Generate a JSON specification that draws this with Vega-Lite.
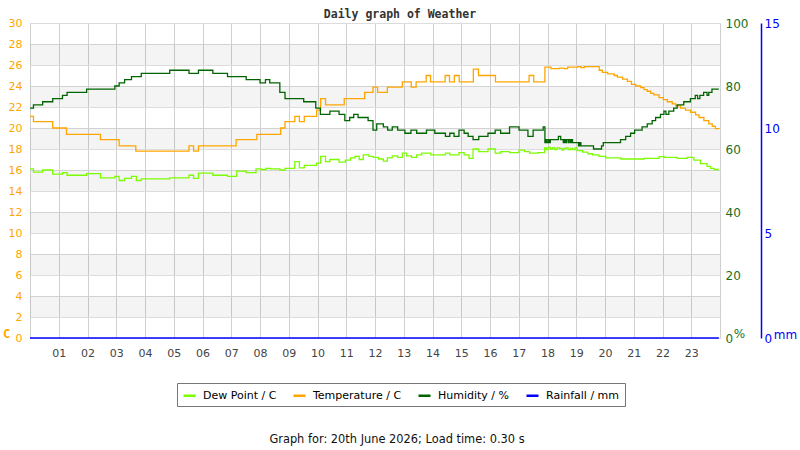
{
  "$schema": "https://vega.github.io/schema/vega-lite/v6.json",
  "width": 690,
  "height": 315,
  "autosize": "none",
  "padding": {"left": 30, "top": 23, "right": 80, "bottom": 112},
  "background": "white",
  "title": {
    "text": "Daily graph of Weather",
    "font": "DejaVu Sans Mono",
    "fontSize": 11.5,
    "fontWeight": "bold",
    "color": "#333",
    "anchor": "middle",
    "frame": "group",
    "dx": 25,
    "offset": -3
  },
  "datasets": {
    "bands": [
      {"lo": 2, "hi": 4}, {"lo": 6, "hi": 8}, {"lo": 10, "hi": 12}, {"lo": 14, "hi": 16},
      {"lo": 18, "hi": 20}, {"lo": 22, "hi": 24}, {"lo": 26, "hi": 28}
    ],
    "temperature": [
      {"hour": 0, "value": 21.1}, {"hour": 0.12, "value": 20.6}, {"hour": 0.79, "value": 20.0},
      {"hour": 1.27, "value": 19.4}, {"hour": 2.45, "value": 18.9}, {"hour": 3.1, "value": 18.3},
      {"hour": 3.68, "value": 17.8}, {"hour": 5.53, "value": 18.3}, {"hour": 5.69, "value": 17.8},
      {"hour": 5.86, "value": 18.3}, {"hour": 7.17, "value": 18.9}, {"hour": 7.89, "value": 19.4},
      {"hour": 8.72, "value": 20.0}, {"hour": 8.87, "value": 20.6}, {"hour": 9.21, "value": 21.1},
      {"hour": 9.37, "value": 20.6}, {"hour": 9.54, "value": 21.1}, {"hour": 9.97, "value": 21.7},
      {"hour": 10.11, "value": 22.8}, {"hour": 10.28, "value": 22.2}, {"hour": 10.93, "value": 22.8},
      {"hour": 11.64, "value": 23.4}, {"hour": 11.93, "value": 23.9}, {"hour": 12.09, "value": 23.4},
      {"hour": 12.43, "value": 23.9}, {"hour": 12.95, "value": 24.4}, {"hour": 13.26, "value": 23.9},
      {"hour": 13.43, "value": 24.4}, {"hour": 13.78, "value": 25.0}, {"hour": 13.93, "value": 24.4},
      {"hour": 14.44, "value": 25.0}, {"hour": 14.59, "value": 24.4}, {"hour": 14.76, "value": 25.0},
      {"hour": 14.93, "value": 24.4}, {"hour": 15.42, "value": 25.6}, {"hour": 15.6, "value": 25.0},
      {"hour": 16.19, "value": 24.4}, {"hour": 17.36, "value": 25.0}, {"hour": 17.52, "value": 24.4},
      {"hour": 17.91, "value": 25.8}, {"hour": 18.12, "value": 25.65}, {"hour": 18.41, "value": 25.7},
      {"hour": 18.58, "value": 25.65}, {"hour": 18.7, "value": 25.8}, {"hour": 19.05, "value": 25.85},
      {"hour": 19.16, "value": 25.75}, {"hour": 19.28, "value": 25.85}, {"hour": 19.8, "value": 25.5},
      {"hour": 19.91, "value": 25.3}, {"hour": 20.09, "value": 25.15}, {"hour": 20.32, "value": 25.0},
      {"hour": 20.43, "value": 24.85}, {"hour": 20.61, "value": 24.65}, {"hour": 20.78, "value": 24.45},
      {"hour": 20.92, "value": 24.15}, {"hour": 21.07, "value": 24.0}, {"hour": 21.24, "value": 23.85},
      {"hour": 21.36, "value": 23.65}, {"hour": 21.47, "value": 23.5}, {"hour": 21.59, "value": 23.3},
      {"hour": 21.7, "value": 23.15}, {"hour": 21.88, "value": 22.9}, {"hour": 22.03, "value": 22.7},
      {"hour": 22.17, "value": 22.5}, {"hour": 22.34, "value": 22.3}, {"hour": 22.46, "value": 22.1},
      {"hour": 22.63, "value": 21.9}, {"hour": 22.8, "value": 21.7}, {"hour": 22.98, "value": 21.5},
      {"hour": 23.15, "value": 21.25}, {"hour": 23.27, "value": 21.0}, {"hour": 23.44, "value": 20.7},
      {"hour": 23.61, "value": 20.4}, {"hour": 23.73, "value": 20.15}, {"hour": 23.84, "value": 19.95},
      {"hour": 23.96, "value": 19.9}
    ],
    "dewPoint": [
      {"hour": 0, "value": 16.1}, {"hour": 0.12, "value": 15.8}, {"hour": 0.44, "value": 16.0},
      {"hour": 0.79, "value": 15.6}, {"hour": 1.13, "value": 15.75}, {"hour": 1.29, "value": 15.5},
      {"hour": 1.97, "value": 15.65}, {"hour": 2.45, "value": 15.25}, {"hour": 2.95, "value": 15.4},
      {"hour": 3.1, "value": 15.0}, {"hour": 3.29, "value": 15.2}, {"hour": 3.53, "value": 15.4},
      {"hour": 3.7, "value": 15.0}, {"hour": 3.87, "value": 15.15}, {"hour": 4.86, "value": 15.25},
      {"hour": 5.53, "value": 15.5}, {"hour": 5.69, "value": 15.2}, {"hour": 5.86, "value": 15.7},
      {"hour": 6.36, "value": 15.5}, {"hour": 6.87, "value": 15.4}, {"hour": 7.19, "value": 15.9},
      {"hour": 7.52, "value": 15.75}, {"hour": 7.86, "value": 16.1}, {"hour": 8.02, "value": 16.05},
      {"hour": 8.21, "value": 16.15}, {"hour": 8.37, "value": 16.1}, {"hour": 8.69, "value": 16.0},
      {"hour": 8.87, "value": 16.15}, {"hour": 9.21, "value": 16.8}, {"hour": 9.37, "value": 16.2},
      {"hour": 9.54, "value": 16.45}, {"hour": 9.97, "value": 16.65}, {"hour": 10.11, "value": 17.3},
      {"hour": 10.28, "value": 16.8}, {"hour": 10.43, "value": 17.0}, {"hour": 10.75, "value": 16.75},
      {"hour": 10.97, "value": 16.95}, {"hour": 11.15, "value": 17.15}, {"hour": 11.3, "value": 17.3},
      {"hour": 11.45, "value": 17.0}, {"hour": 11.59, "value": 17.45}, {"hour": 11.79, "value": 17.3},
      {"hour": 11.94, "value": 17.2}, {"hour": 12.12, "value": 17.05}, {"hour": 12.29, "value": 16.85},
      {"hour": 12.43, "value": 17.15}, {"hour": 12.6, "value": 17.35}, {"hour": 12.79, "value": 17.2},
      {"hour": 12.95, "value": 17.6}, {"hour": 13.1, "value": 17.35}, {"hour": 13.27, "value": 17.2},
      {"hour": 13.45, "value": 17.45}, {"hour": 13.62, "value": 17.6}, {"hour": 13.94, "value": 17.45},
      {"hour": 14.45, "value": 17.6}, {"hour": 14.6, "value": 17.45}, {"hour": 14.92, "value": 17.65},
      {"hour": 15.1, "value": 17.45}, {"hour": 15.27, "value": 17.1}, {"hour": 15.41, "value": 18.0},
      {"hour": 15.61, "value": 17.75}, {"hour": 15.93, "value": 18.0}, {"hour": 16.18, "value": 17.6},
      {"hour": 16.37, "value": 17.75}, {"hour": 16.68, "value": 17.65}, {"hour": 17.01, "value": 17.9},
      {"hour": 17.2, "value": 17.75}, {"hour": 17.38, "value": 17.6}, {"hour": 17.66, "value": 17.65},
      {"hour": 17.9, "value": 18.1}, {"hour": 17.96, "value": 17.95}, {"hour": 18.02, "value": 18.15},
      {"hour": 18.1, "value": 18.0}, {"hour": 18.18, "value": 18.1}, {"hour": 18.25, "value": 17.95},
      {"hour": 18.33, "value": 18.1}, {"hour": 18.42, "value": 18.05}, {"hour": 18.5, "value": 17.9},
      {"hour": 18.56, "value": 18.05}, {"hour": 18.64, "value": 18.1}, {"hour": 18.72, "value": 17.95},
      {"hour": 18.8, "value": 18.05}, {"hour": 18.88, "value": 17.95}, {"hour": 18.96, "value": 18.1},
      {"hour": 19.03, "value": 17.85}, {"hour": 19.22, "value": 17.7}, {"hour": 19.4, "value": 17.55},
      {"hour": 19.56, "value": 17.45}, {"hour": 19.79, "value": 17.3}, {"hour": 20.03, "value": 17.15},
      {"hour": 20.55, "value": 17.05}, {"hour": 21.36, "value": 17.1}, {"hour": 21.88, "value": 17.27},
      {"hour": 22.05, "value": 17.2}, {"hour": 22.51, "value": 17.1}, {"hour": 22.86, "value": 17.2},
      {"hour": 23.09, "value": 16.95}, {"hour": 23.32, "value": 16.6}, {"hour": 23.55, "value": 16.35},
      {"hour": 23.67, "value": 16.15}, {"hour": 23.79, "value": 16.05}, {"hour": 23.96, "value": 16.05}
    ],
    "humidity": [
      {"hour": 0, "value": 73}, {"hour": 0.12, "value": 74}, {"hour": 0.44, "value": 75},
      {"hour": 0.79, "value": 76}, {"hour": 1.13, "value": 77}, {"hour": 1.29, "value": 78},
      {"hour": 1.97, "value": 79}, {"hour": 2.95, "value": 80}, {"hour": 3.1, "value": 81},
      {"hour": 3.29, "value": 82}, {"hour": 3.53, "value": 83}, {"hour": 3.87, "value": 84},
      {"hour": 4.86, "value": 85}, {"hour": 5.53, "value": 84}, {"hour": 5.86, "value": 85},
      {"hour": 6.36, "value": 84}, {"hour": 6.87, "value": 83}, {"hour": 7.52, "value": 82},
      {"hour": 8.0, "value": 81}, {"hour": 8.19, "value": 82}, {"hour": 8.34, "value": 81},
      {"hour": 8.69, "value": 78}, {"hour": 8.87, "value": 76}, {"hour": 9.52, "value": 75},
      {"hour": 9.94, "value": 73}, {"hour": 10.1, "value": 71}, {"hour": 10.43, "value": 72},
      {"hour": 10.75, "value": 71}, {"hour": 10.95, "value": 69}, {"hour": 11.12, "value": 70},
      {"hour": 11.26, "value": 71}, {"hour": 11.41, "value": 70}, {"hour": 11.76, "value": 69},
      {"hour": 11.93, "value": 66}, {"hour": 12.06, "value": 68}, {"hour": 12.29, "value": 67},
      {"hour": 12.44, "value": 66}, {"hour": 12.6, "value": 67}, {"hour": 12.79, "value": 66},
      {"hour": 13.04, "value": 65}, {"hour": 13.25, "value": 66}, {"hour": 13.45, "value": 65},
      {"hour": 13.79, "value": 66}, {"hour": 14.08, "value": 65}, {"hour": 14.45, "value": 64},
      {"hour": 14.6, "value": 65}, {"hour": 14.75, "value": 64}, {"hour": 14.92, "value": 66},
      {"hour": 15.1, "value": 65}, {"hour": 15.24, "value": 64}, {"hour": 15.41, "value": 63},
      {"hour": 15.61, "value": 64}, {"hour": 15.93, "value": 65}, {"hour": 16.18, "value": 66},
      {"hour": 16.37, "value": 65}, {"hour": 16.68, "value": 67}, {"hour": 17.01, "value": 66},
      {"hour": 17.32, "value": 64}, {"hour": 17.5, "value": 66}, {"hour": 17.85, "value": 67},
      {"hour": 17.91, "value": 62}, {"hour": 17.94, "value": 63}, {"hour": 17.98, "value": 62},
      {"hour": 18.03, "value": 63}, {"hour": 18.07, "value": 62}, {"hour": 18.1, "value": 63},
      {"hour": 18.38, "value": 64}, {"hour": 18.46, "value": 63}, {"hour": 18.55, "value": 62},
      {"hour": 18.58, "value": 63}, {"hour": 18.62, "value": 62}, {"hour": 18.66, "value": 63},
      {"hour": 18.72, "value": 62}, {"hour": 18.75, "value": 63}, {"hour": 18.8, "value": 62},
      {"hour": 18.83, "value": 63}, {"hour": 18.87, "value": 62}, {"hour": 19.08, "value": 61},
      {"hour": 19.12, "value": 62}, {"hour": 19.16, "value": 61}, {"hour": 19.6, "value": 60},
      {"hour": 19.88, "value": 61}, {"hour": 19.94, "value": 62}, {"hour": 20.54, "value": 63},
      {"hour": 20.72, "value": 64}, {"hour": 20.89, "value": 65}, {"hour": 21.03, "value": 66},
      {"hour": 21.29, "value": 67}, {"hour": 21.47, "value": 68}, {"hour": 21.64, "value": 69},
      {"hour": 21.76, "value": 70}, {"hour": 21.93, "value": 71}, {"hour": 22.05, "value": 72},
      {"hour": 22.12, "value": 71}, {"hour": 22.22, "value": 72}, {"hour": 22.39, "value": 73},
      {"hour": 22.51, "value": 74}, {"hour": 22.74, "value": 75}, {"hour": 22.97, "value": 76},
      {"hour": 23.14, "value": 77}, {"hour": 23.22, "value": 76}, {"hour": 23.3, "value": 77},
      {"hour": 23.43, "value": 78}, {"hour": 23.55, "value": 77}, {"hour": 23.61, "value": 78},
      {"hour": 23.72, "value": 79}, {"hour": 23.96, "value": 79}
    ],
    "rainfall": [
      {"hour": 0, "value": 0}, {"hour": 23.96, "value": 0}
    ]
  },
  "layer": [
    {
      "layer": [
        {
          "data": {"name": "bands"},
          "mark": {"type": "rect", "color": "#000", "opacity": 0.045},
          "encoding": {
            "x": {"datum": 0, "type": "quantitative", "scale": {"domain": [0, 24], "nice": false},
              "axis": {"values": [1, 2, 3, 4, 5, 6, 7, 8, 9, 10, 11, 12, 13, 14, 15, 16, 17, 18, 19, 20, 21, 22, 23], "format": "02d", "labelColor": "#444", "labelFontSize": 11, "labelPadding": 9, "ticks": false, "domain": false, "grid": true, "gridColor": "#d0d0d0", "title": "Graph for: 20th June 2026; Load time: 0.30 s", "titleFont": "DejaVu Sans", "titleFontSize": 11.4, "titleFontWeight": "normal", "titleColor": "#111", "titleAlign": "center", "titleBaseline": "alphabetic", "titleX": 366.5, "titleY": 104}},
            "x2": {"datum": 24},
            "y": {"field": "lo", "type": "quantitative", "scale": {"domain": [0, 30], "nice": false},
              "axis": {"orient": "left", "values": [0, 2, 4, 6, 8, 10, 12, 14, 16, 18, 20, 22, 24, 26, 28, 30], "labelColor": "#FFA500", "labelFontSize": 11, "labelPadding": 8, "ticks": false, "domain": false, "grid": true, "gridColor": "#dcdcdc", "title": "C", "titleColor": "#FFA500", "titleFont": "DejaVu Sans Mono", "titleFontSize": 12, "titleFontWeight": "bold", "titleAngle": 0, "titleAlign": "center", "titleBaseline": "middle", "titleX": -24, "titleY": 310}},
            "y2": {"field": "hi"}
          }
        },
        {
          "data": {"name": "dewPoint"},
          "mark": {"type": "line", "interpolate": "step-after", "strokeWidth": 1.3},
          "encoding": {
            "x": {"field": "hour", "type": "quantitative", "scale": {"domain": [0, 24], "nice": false},
              "axis": {"values": [1, 2, 3, 4, 5, 6, 7, 8, 9, 10, 11, 12, 13, 14, 15, 16, 17, 18, 19, 20, 21, 22, 23], "format": "02d", "labelColor": "#444", "labelFontSize": 11, "labelPadding": 9, "ticks": false, "domain": false, "grid": true, "gridColor": "#d0d0d0", "title": "Graph for: 20th June 2026; Load time: 0.30 s", "titleFont": "DejaVu Sans", "titleFontSize": 11.4, "titleFontWeight": "normal", "titleColor": "#111", "titleAlign": "center", "titleBaseline": "alphabetic", "titleX": 366.5, "titleY": 104}},
            "y": {"field": "value", "type": "quantitative", "scale": {"domain": [0, 30], "nice": false},
              "axis": {"orient": "left", "values": [0, 2, 4, 6, 8, 10, 12, 14, 16, 18, 20, 22, 24, 26, 28, 30], "labelColor": "#FFA500", "labelFontSize": 11, "labelPadding": 8, "ticks": false, "domain": false, "grid": true, "gridColor": "#dcdcdc", "title": "C", "titleColor": "#FFA500", "titleFont": "DejaVu Sans Mono", "titleFontSize": 12, "titleFontWeight": "bold", "titleAngle": 0, "titleAlign": "center", "titleBaseline": "middle", "titleX": -24, "titleY": 310}},
            "color": {
              "datum": "Dew Point / C",
              "type": "nominal",
              "scale": {
                "domain": ["Dew Point / C", "Temperature / C", "Humidity / %", "Rainfall / mm"],
                "range": ["#7CFC00", "#FFA500", "#006400", "#0000FF"]
              },
              "legend": {
                "orient": "none",
                "legendX": 147,
                "legendY": 360,
                "direction": "horizontal",
                "title": null,
                "symbolType": "stroke",
                "symbolStrokeWidth": 2.5,
                "symbolSize": 144,
                "labelFont": "DejaVu Sans",
                "labelFontSize": 11,
                "labelColor": "#000",
                "labelOffset": 6,
                "columnPadding": 11,
                "padding": 5,
                "strokeColor": "#777",
                "fillColor": "#fff"
              }
            }
          }
        },
        {
          "data": {"name": "temperature"},
          "mark": {"type": "line", "interpolate": "step-after", "strokeWidth": 1.3},
          "encoding": {
            "x": {"field": "hour", "type": "quantitative", "scale": {"domain": [0, 24], "nice": false},
              "axis": {"values": [1, 2, 3, 4, 5, 6, 7, 8, 9, 10, 11, 12, 13, 14, 15, 16, 17, 18, 19, 20, 21, 22, 23], "format": "02d", "labelColor": "#444", "labelFontSize": 11, "labelPadding": 9, "ticks": false, "domain": false, "grid": true, "gridColor": "#d0d0d0", "title": "Graph for: 20th June 2026; Load time: 0.30 s", "titleFont": "DejaVu Sans", "titleFontSize": 11.4, "titleFontWeight": "normal", "titleColor": "#111", "titleAlign": "center", "titleBaseline": "alphabetic", "titleX": 366.5, "titleY": 104}},
            "y": {"field": "value", "type": "quantitative", "scale": {"domain": [0, 30], "nice": false},
              "axis": {"orient": "left", "values": [0, 2, 4, 6, 8, 10, 12, 14, 16, 18, 20, 22, 24, 26, 28, 30], "labelColor": "#FFA500", "labelFontSize": 11, "labelPadding": 8, "ticks": false, "domain": false, "grid": true, "gridColor": "#dcdcdc", "title": "C", "titleColor": "#FFA500", "titleFont": "DejaVu Sans Mono", "titleFontSize": 12, "titleFontWeight": "bold", "titleAngle": 0, "titleAlign": "center", "titleBaseline": "middle", "titleX": -24, "titleY": 310}},
            "color": {
              "datum": "Temperature / C",
              "type": "nominal",
              "scale": {
                "domain": ["Dew Point / C", "Temperature / C", "Humidity / %", "Rainfall / mm"],
                "range": ["#7CFC00", "#FFA500", "#006400", "#0000FF"]
              }
            }
          }
        }
      ]
    },
    {
      "data": {"name": "humidity"},
      "mark": {"type": "line", "interpolate": "step-after", "strokeWidth": 1.3},
      "encoding": {
        "x": {"field": "hour", "type": "quantitative", "scale": {"domain": [0, 24], "nice": false},
          "axis": {"values": [1, 2, 3, 4, 5, 6, 7, 8, 9, 10, 11, 12, 13, 14, 15, 16, 17, 18, 19, 20, 21, 22, 23], "format": "02d", "labelColor": "#444", "labelFontSize": 11, "labelPadding": 9, "ticks": false, "domain": false, "grid": true, "gridColor": "#d0d0d0", "title": "Graph for: 20th June 2026; Load time: 0.30 s", "titleFont": "DejaVu Sans", "titleFontSize": 11.4, "titleFontWeight": "normal", "titleColor": "#111", "titleAlign": "center", "titleBaseline": "alphabetic", "titleX": 366.5, "titleY": 104}},
        "y": {
          "field": "value",
          "type": "quantitative",
          "scale": {"domain": [0, 100], "nice": false},
          "axis": {
            "orient": "right",
            "values": [0, 20, 40, 60, 80, 100],
            "labelColor": "#1b6e1b",
            "labelFontSize": 12,
            "labelPadding": 5,
            "ticks": false,
            "domain": false,
            "grid": false,
            "title": "%",
            "titleColor": "#1b6e1b",
            "titleFont": "DejaVu Sans",
            "titleFontSize": 12,
            "titleFontWeight": "normal",
            "titleAngle": 0,
            "titleAlign": "center",
            "titleBaseline": "middle",
            "titleX": 19,
            "titleY": 310
          }
        },
        "color": {
          "datum": "Humidity / %",
          "type": "nominal",
          "scale": {
            "domain": ["Dew Point / C", "Temperature / C", "Humidity / %", "Rainfall / mm"],
            "range": ["#7CFC00", "#FFA500", "#006400", "#0000FF"]
          }
        }
      }
    },
    {
      "data": {"name": "rainfall"},
      "mark": {"type": "line", "interpolate": "step-after", "strokeWidth": 1.5},
      "encoding": {
        "x": {"field": "hour", "type": "quantitative", "scale": {"domain": [0, 24], "nice": false},
          "axis": {"values": [1, 2, 3, 4, 5, 6, 7, 8, 9, 10, 11, 12, 13, 14, 15, 16, 17, 18, 19, 20, 21, 22, 23], "format": "02d", "labelColor": "#444", "labelFontSize": 11, "labelPadding": 9, "ticks": false, "domain": false, "grid": true, "gridColor": "#d0d0d0", "title": "Graph for: 20th June 2026; Load time: 0.30 s", "titleFont": "DejaVu Sans", "titleFontSize": 11.4, "titleFontWeight": "normal", "titleColor": "#111", "titleAlign": "center", "titleBaseline": "alphabetic", "titleX": 366.5, "titleY": 104}},
        "y": {
          "field": "value",
          "type": "quantitative",
          "scale": {"domain": [0, 15], "nice": false},
          "axis": {
            "orient": "right",
            "offset": 41,
            "values": [0, 5, 10, 15],
            "labelColor": "#0000FF",
            "labelFontSize": 12,
            "labelPadding": 3,
            "ticks": false,
            "domain": true,
            "domainColor": "#0000FF",
            "domainWidth": 1.5,
            "grid": false,
            "title": "mm",
            "titleColor": "#0000FF",
            "titleFont": "DejaVu Sans",
            "titleFontSize": 12,
            "titleFontWeight": "normal",
            "titleAngle": 0,
            "titleAlign": "center",
            "titleBaseline": "middle",
            "titleX": 24,
            "titleY": 311
          }
        },
        "color": {
          "datum": "Rainfall / mm",
          "type": "nominal",
          "scale": {
            "domain": ["Dew Point / C", "Temperature / C", "Humidity / %", "Rainfall / mm"],
            "range": ["#7CFC00", "#FFA500", "#006400", "#0000FF"]
          }
        }
      }
    }
  ],
  "resolve": {"scale": {"y": "independent"}},
  "config": {
    "font": "DejaVu Sans",
    "view": {"stroke": "#cfcfcf"},
    "axis": {"labelFont": "DejaVu Sans", "titleFont": "DejaVu Sans"}
  }
}
